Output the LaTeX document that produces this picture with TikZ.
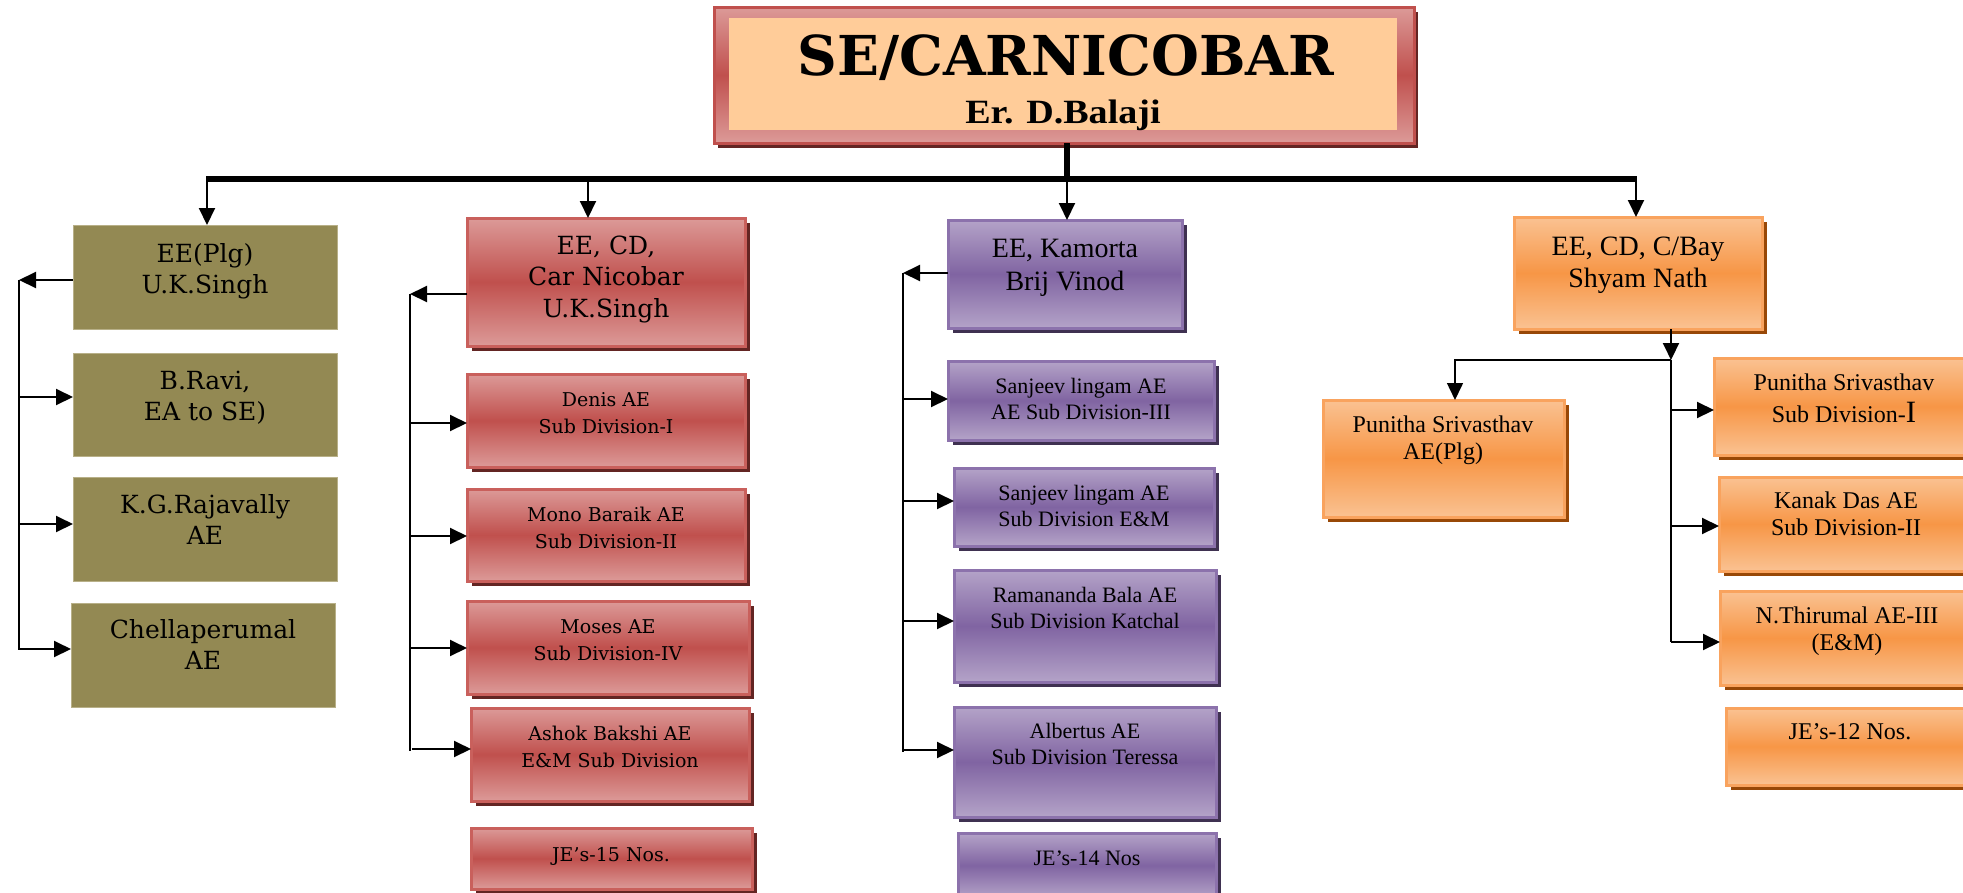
\documentclass[tikz,border=0pt]{standalone}
\usepackage{fontspec}
\setmainfont{DejaVu Serif}
\newfontfamily\tms{Liberation Serif}
\usepackage{graphicx}
\usetikzlibrary{arrows.meta,shadows,fit}
\definecolor{cOlive}{HTML}{938953}
\definecolor{cOliveE}{HTML}{B8B088}
\definecolor{redM}{HTML}{C0504D}
\definecolor{redL}{HTML}{DC9A98}
\definecolor{redB}{HTML}{C9605C}
\definecolor{redS}{HTML}{632523}
\definecolor{purM}{HTML}{8064A2}
\definecolor{purL}{HTML}{B4A3C8}
\definecolor{purB}{HTML}{8C72AC}
\definecolor{purS}{HTML}{3F3151}
\definecolor{orM}{HTML}{F79646}
\definecolor{orL}{HTML}{FAC292}
\definecolor{orB}{HTML}{F9A35E}
\definecolor{orS}{HTML}{984807}
\definecolor{peach}{HTML}{FFCC99}
\tikzset{
  bx/.style={inner sep=0pt, outer sep=0pt},
  olivebx/.style={bx, fill=cOlive, draw=cOliveE, line width=1pt},
  redbx/.style={bx, draw=redB, line width=3pt, top color=redL, bottom color=redL, middle color=redM,
    drop shadow={shadow xshift=5pt, shadow yshift=-5pt, fill=redS, opacity=1}},
  topbx/.style={bx, draw=redM, line width=3pt, top color=redL, bottom color=redL, middle color=redM,
    drop shadow={shadow xshift=4pt, shadow yshift=-5pt, fill=redS, opacity=1}},
  purbx/.style={bx, draw=purB, line width=3pt, top color=purL, bottom color=purL, middle color=purM,
    drop shadow={shadow xshift=5pt, shadow yshift=-5pt, fill=purS, opacity=1}},
  orbx/.style={bx, draw=orB, line width=3pt, top color=orL, bottom color=orL, middle color=orM,
    drop shadow={shadow xshift=5pt, shadow yshift=-5pt, fill=orS, opacity=1}},
  tip/.style={-{Triangle[length=17pt,width=16pt]}},
  arr/.style={line width=2pt, tip},
  ln/.style={line width=2pt},
  txt/.style={inner sep=0pt, anchor=base, align=center, text=black},
  olivet/.style={txt, font=\fontsize{25}{31}\selectfont},
  redh/.style={txt, font=\fontsize{25}{31.5}\selectfont},
  redt/.style={txt, font=\fontsize{19}{27}\selectfont},
  purh/.style={txt, font=\tms\fontsize{28}{33}\selectfont},
  purt/.style={txt, font=\tms\fontsize{22}{26}\selectfont},
  orh/.style={txt, font=\tms\fontsize{28}{32}\selectfont},
  ort/.style={txt, font=\tms\fontsize{24}{27}\selectfont},
}
\begin{document}
\begin{tikzpicture}[x=1pt,y=-1pt]
\useasboundingbox (0,0) rectangle (1963,892);
\clip (0,0) rectangle (1963,892);
\fill[white] (0,0) rectangle (1963,892);

% ---------- top box ----------
\node[topbx, fit={(714,7) (1414,143)}] (se) {};
\node[bx, fill=peach, fit={(729,18) (1397,130)}] (sein) {};
\node[txt, font=\fontsize{55}{55}\selectfont\bfseries] at (1066,75) {SE/CARNICOBAR};
\node[txt, font=\tms\bfseries\fontsize{34}{34}\selectfont] at (1063,123) {\scalebox{1.12}[1]{Er. D.Balaji}};

% ---------- olive column ----------
\node[olivebx, fit={(73,225) (337,329)}] (l1) {};
\node[olivebx, fit={(73,353) (337,456)}] (l2) {};
\node[olivebx, fit={(73,477) (337,581)}] (l3) {};
\node[olivebx, fit={(71,603) (335,707)}] (l4) {};
\node[olivet] at (205,293) {EE(Plg)\\U.K.Singh};
\node[olivet] at (205,420) {B.Ravi,\\EA to SE)};
\node[olivet] at (205,544) {K.G.Rajavally\\AE};
\node[olivet] at (203,669) {Chellaperumal\\AE};

% ---------- red column ----------
\node[redbx, fit={(467,218) (745,346)}] (r0) {};
\node[redbx, fit={(467,374) (745,467)}] (r1) {};
\node[redbx, fit={(467,489) (745,581)}] (r2) {};
\node[redbx, fit={(467,601) (749,694)}] (r3) {};
\node[redbx, fit={(471,708) (749,801)}] (r4) {};
\node[redbx, fit={(471,828) (752,889)}] (r5) {};
\node[redh] at (606,317) {EE, CD,\\Car Nicobar\\U.K.Singh};
\node[redt] at (606,433) {Denis AE\\Sub Division-I};
\node[redt] at (606,548) {Mono Baraik AE\\Sub Division-II};
\node[redt] at (608,660) {Moses AE\\Sub Division-IV};
\node[redt] at (610,767) {Ashok Bakshi AE\\E\&M Sub Division};
\node[redt] at (611,861) {JE’s-15 Nos.};

% ---------- purple column ----------
\node[purbx, fit={(948,220) (1182,328)}] (p0) {};
\node[purbx, fit={(948,361) (1214,440)}] (p1) {};
\node[purbx, fit={(954,468) (1214,546)}] (p2) {};
\node[purbx, fit={(954,570) (1216,682)}] (p3) {};
\node[purbx, fit={(954,707) (1216,817)}] (p4) {};
\node[purbx, fit={(958,833) (1216,898)}] (p5) {};
\node[purh] at (1065,290) {EE, Kamorta\\Brij Vinod};
\node[purt] at (1081,419) {Sanjeev lingam AE\\AE Sub Division-III};
\node[purt] at (1084,526) {Sanjeev lingam AE\\Sub Division E\&M};
\node[purt] at (1085,628) {Ramananda Bala AE\\Sub Division Katchal};
\node[purt] at (1085,764) {Albertus AE\\Sub Division Teressa};
\node[purt] at (1087,865) {JE’s-14 Nos};

% ---------- orange column ----------
\node[orbx, fit={(1514,217) (1762,329)}] (o0) {};
\node[orbx, fit={(1323,400) (1564,517)}] (o1) {};
\node[orbx, fit={(1714,358) (1975,455)}] (o2) {};
\node[orbx, fit={(1719,477) (1975,571)}] (o3) {};
\node[orbx, fit={(1720,591) (1975,685)}] (o4) {};
\node[orbx, fit={(1726,708) (1975,785)}] (o5) {};
\node[orh] at (1638,287) {EE, CD, C/Bay\\Shyam Nath};
\node[ort] at (1443,459) {Punitha Srivasthav\\AE(Plg)};
\node[ort] at (1844,422) {Punitha Srivasthav\\[5pt]Sub Division-{\fontsize{31}{31}\selectfont I}};
\node[ort] at (1846,535) {Kanak Das AE\\Sub Division-II};
\node[ort] at (1847,650) {N.Thirumal AE-III\\(E\&M)};
\node[ort] at (1850,739) {JE’s-12 Nos.};

% ---------- top connectors ----------
\coordinate (bl) at (207,179);
\coordinate (br) at (1636,179);
\coordinate (d2) at (588,179);
\coordinate (d3) at (1067,179);
\draw[line width=6pt] (se.south -| d3) -- (d3);
\draw[line width=5.5pt] ([xshift=-1pt]bl) -- ([xshift=1pt]br);
\draw[arr] (bl) -- (bl |- l1.north);
\draw[arr] (d2) -- (d2 |- r0.north);
\draw[arr] (d3) -- (d3 |- p0.north);
\draw[arr] (br) -- (br |- o0.north);

% ---------- olive bracket ----------
\coordinate (la) at (19,280);
\coordinate (lz) at (19,650);
\coordinate (l2a) at (19,397);
\coordinate (l3a) at (19,524);
\coordinate (l4a) at (19,649);
\draw[arr] (la -| l1.west) -- (la);
\draw[ln] (la) -- (lz);
\draw[arr] (l2a) -- (l2a -| l2.west);
\draw[arr] (l3a) -- (l3a -| l3.west);
\draw[arr] (l4a) -- (l4a -| l4.west);

% ---------- red bracket ----------
\coordinate (ra) at (410,294);
\coordinate (rz) at (410,751);
\coordinate (r1a) at (410,423);
\coordinate (r2a) at (410,536);
\coordinate (r3a) at (410,648);
\coordinate (r4a) at (412,749);
\draw[arr] (ra -| r0.west) -- (ra);
\draw[ln] (ra) -- (rz);
\draw[arr] (r1a) -- (r1a -| r1.west);
\draw[arr] (r2a) -- (r2a -| r2.west);
\draw[arr] (r3a) -- (r3a -| r3.west);
\draw[arr] (r4a) -- (r4a -| r4.west);

% ---------- purple bracket ----------
\coordinate (pa) at (903,273);
\coordinate (pz) at (903,752);
\coordinate (p1a) at (903,399);
\coordinate (p2a) at (903,501);
\coordinate (p3a) at (903,621);
\coordinate (p4a) at (903,750);
\draw[arr] (pa -| p0.west) -- (pa);
\draw[ln] (pa) -- (pz);
\draw[arr] (p1a) -- (p1a -| p1.west);
\draw[arr] (p2a) -- (p2a -| p2.west);
\draw[arr] (p3a) -- (p3a -| p3.west);
\draw[arr] (p4a) -- (p4a -| p4.west);

% ---------- orange connectors ----------
\coordinate (oj) at (1671,360);
\coordinate (oa) at (1455,360);
\coordinate (oz) at (1671,642);
\coordinate (o2a) at (1671,410);
\coordinate (o3a) at (1671,526);
\draw[arr] (oj |- o0.south) -- (oj);
\draw[line width=1.5pt, tip] (oj) -- (oa) -- (oa |- o1.north);
\draw[ln] (oj) -- (oz);
\draw[arr] (o2a) -- (o2a -| o2.west);
\draw[arr] (o3a) -- (o3a -| o3.west);
\draw[arr] (oz) -- (oz -| o4.west);
\end{tikzpicture}
\end{document}
